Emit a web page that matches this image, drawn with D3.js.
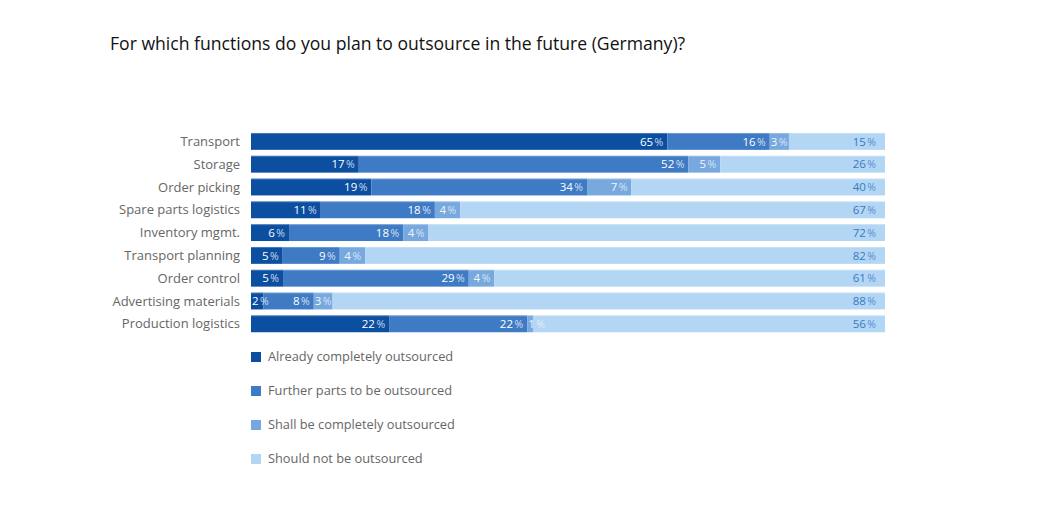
<!DOCTYPE html>
<html>
<head>
<meta charset="utf-8">
<script src="https://cdn.jsdelivr.net/npm/d3@7"></script>
<style>
  body { margin: 0; background: #fff; }
  svg { font-family: "Open Sans", sans-serif; }
</style>
</head>
<body>
<svg id="chart" width="1050" height="525"></svg>
<script>
var categories = ["Transport", "Storage", "Order picking", "Spare parts logistics", "Inventory mgmt.",
    "Transport planning", "Order control", "Advertising materials", "Production logistics"];
var seriesNames = ["Already completely outsourced", "Further parts to be outsourced",
    "Shall be completely outsourced", "Should not be outsourced"];
var already = [65, 17, 19, 11, 6, 5, 5, 2, 22];
var further = [16, 52, 34, 18, 18, 9, 29, 8, 22];
var shall = [3, 5, 7, 4, 4, 4, 4, 3, 1];
var notOut = [15, 26, 40, 67, 72, 82, 61, 88, 56];

var colors = ["#0c4fa1", "#3e7bc4", "#78a9de", "#b2d6f3"];
var labelColors = ["#ffffff", "#ffffff", "#f0f6fd", "#3a78c4"];

var svg = d3.select("svg#chart");
var margin = { left: 251, right: 165, top: 130 };
var width = 1050 - margin.left - margin.right;

var data = categories.map(function(c, i) {
    return { name: c, values: [already[i], further[i], shall[i], notOut[i]] };
});

var x = d3.scaleLinear().domain([0, 1]).range([0, width]);
var y = d3.scaleBand().domain(categories).range([0, 22.8 * categories.length]).paddingInner(0.26).paddingOuter(0.13);

var g = svg.append("g").attr("transform", "translate(" + margin.left + "," + margin.top + ")");

// Title
svg.append("text")
    .attr("x", 110).attr("y", 50)
    .attr("font-size", 17.6).attr("font-weight", 500).attr("fill", "#111")
    .text("For which functions do you plan to outsource in the future (Germany)?");

// Category labels
g.selectAll("text.cat")
    .data(data).enter().append("text")
    .attr("class", "cat")
    .attr("x", -11)
    .attr("y", (d) => y(d.name) + y.bandwidth() / 2)
    .attr("dy", "0.35em")
    .attr("text-anchor", "end")
    .attr("font-size", 13)
    .attr("fill", "#666")
    .text((d) => d.name);

// Segments
data.forEach(function(d) {
    var total = d3.sum(d.values);
    var cum = 0;
    var row = g.append("g").attr("transform", "translate(0," + y(d.name) + ")");
    d.values.forEach(function(v, k) {
        var x0 = x(cum / total);
        cum += v;
        var x1 = x(cum / total);
        row.append("rect")
            .attr("x", x0).attr("y", 0)
            .attr("width", x1 - x0).attr("height", y.bandwidth())
            .attr("fill", colors[k]);
    });
    // thin light line on top of each bar
    row.append("line")
        .attr("x1", 0).attr("x2", x(1))
        .attr("y1", 0.5).attr("y2", 0.5)
        .attr("stroke", "#ffffff").attr("stroke-opacity", 0.25);

    // labels: right-aligned in the segment, or from its start if it does not fit
    cum = 0;
    d.values.forEach(function(v, k) {
        var x0 = x(cum / total);
        cum += v;
        var x1 = x(cum / total);
        var lab = row.append("text")
            .attr("y", y.bandwidth() / 2)
            .attr("dy", "0.36em")
            .attr("font-size", 11.5)
            .attr("fill", labelColors[k]);
        lab.append("tspan").text(v);
        lab.append("tspan").attr("font-size", 10.5).attr("dx", 1.5).attr("opacity", 0.75).text("%");
        var tw = lab.node().getComputedTextLength() + 1.5;
        var pad = k === 3 ? 9 : 4;
        if (tw + pad + 1 <= x1 - x0) {
            lab.attr("x", x1 - pad).attr("text-anchor", "end");
        } else {
            lab.attr("x", x0 + 1).attr("text-anchor", "start");
        }
    });
});

// Legend
var legend = svg.append("g").attr("transform", "translate(251,357)");
seriesNames.forEach(function(s, k) {
    var lg = legend.append("g").attr("transform", "translate(0," + k * 34 + ")");
    lg.append("rect").attr("x", 0).attr("y", -5).attr("width", 10).attr("height", 10).attr("fill", colors[k]);
    lg.append("text").attr("x", 17).attr("y", 0).attr("dy", "0.35em")
        .attr("font-size", 12.8).attr("fill", "#666").text(s);
});
</script>
</body>
</html>
